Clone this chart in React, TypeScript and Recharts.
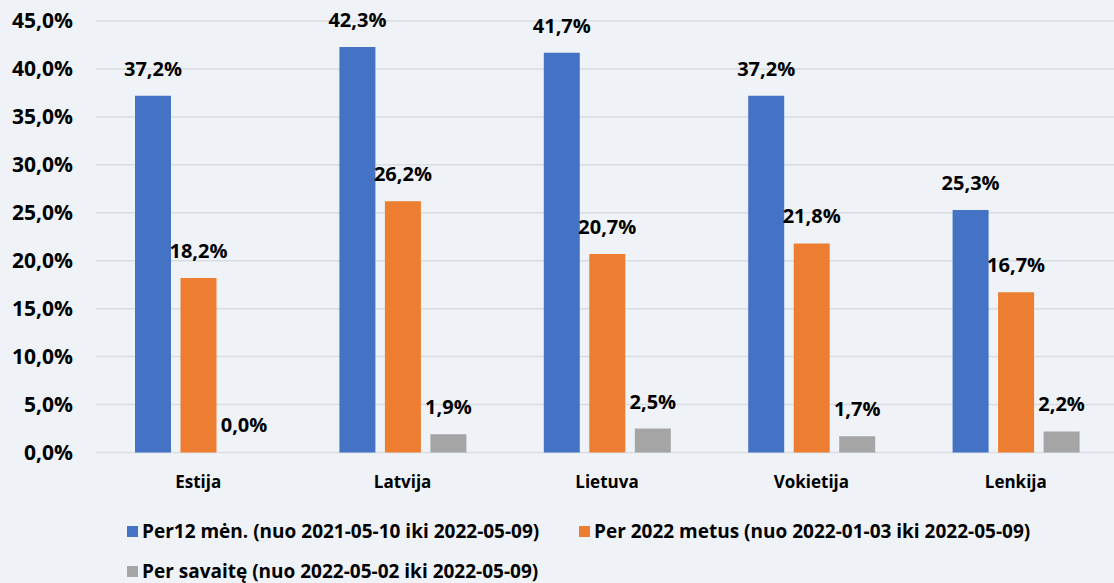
import React from 'react';
import { BarChart, Bar, XAxis, YAxis, CartesianGrid, Legend, LabelList } from 'recharts';

const categories = ['Estija', 'Latvija', 'Lietuva', 'Vokietija', 'Lenkija'];
const per12men = [37.2, 42.3, 41.7, 37.2, 25.3];
const per2022 = [18.2, 26.2, 20.7, 21.8, 16.7];
const perSavaite = [0.0, 1.9, 2.5, 1.7, 2.2];
const yTicks = [0, 5, 10, 15, 20, 25, 30, 35, 40, 45];

const seriesNames = [
  'Per12 mėn. (nuo 2021-05-10 iki 2022-05-09)',
  'Per 2022 metus (nuo 2022-01-03 iki 2022-05-09)',
  'Per savaitę (nuo 2022-05-02 iki 2022-05-09)',
];
const seriesKeys = ['a', 'b', 'c'];
const seriesColors = ['#4472C4', '#ED7D31', '#A5A5A5'];

const data = categories.map((name, i) => ({
  name,
  a: per12men[i],
  b: per2022[i],
  c: perSavaite[i],
}));

const FONT = '"Open Sans", "Noto Sans", sans-serif';
const fmt = (v: number) => Number(v).toFixed(1).replace('.', ',') + '%';

const LegendContent = () => (
  <div
    style={{
      display: 'flex',
      flexWrap: 'wrap',
      width: 960,
      paddingLeft: 127,
      paddingTop: 16,
      rowGap: 16,
      fontFamily: FONT,
      fontWeight: 700,
      fontSize: 19,
      lineHeight: '24px',
      color: '#000',
      boxSizing: 'content-box',
    }}
  >
    {seriesNames.map((n, i) => (
      <div key={n} style={{ display: 'flex', alignItems: 'center', width: 452, height: 24 }}>
        <span style={{ width: 11, height: 11, background: seriesColors[i], marginRight: 4, flex: 'none' }} />
        <span style={{ whiteSpace: 'nowrap' }}>{n}</span>
      </div>
    ))}
  </div>
);

export default function App() {
  return (
    <div
      style={{
        position: 'absolute',
        left: 0,
        top: 0,
        width: 1114,
        height: 583,
        overflow: 'hidden',
        background: '#EFF3F7',
      }}
    >
      <BarChart
        width={1122}
        height={583}
        data={data}
        margin={{ top: 21, right: 4, left: 0, bottom: 0 }}
        barGap={9.5}
        barSize={36}
      >
        <CartesianGrid vertical={false} stroke="#D9DCE0" strokeWidth={1.5} />
        <XAxis
          dataKey="name"
          axisLine={false}
          tickLine={false}
          height={50.5}
          tickMargin={17}
          tick={{ fill: '#000', fontFamily: FONT, fontWeight: 700, fontSize: 17 }}
        />
        <YAxis
          domain={[0, 45]}
          ticks={yTicks}
          width={96}
          axisLine={false}
          tickLine={false}
          tickMargin={17}
          tickFormatter={fmt}
          tick={{ fill: '#000', fontFamily: FONT, fontWeight: 700, fontSize: 21 }}
        />
        <Legend verticalAlign="bottom" height={80} content={<LegendContent />} wrapperStyle={{ left: 0, width: 1114 }} />
        {seriesKeys.map((k, i) => (
          <Bar
            key={k}
            dataKey={k}
            name={seriesNames[i]}
            fill={seriesColors[i]}
            minPointSize={0.1}
            isAnimationActive={false}
          >
            <LabelList
              dataKey={k}
              position="top"
              offset={20}
              formatter={(v: number) => fmt(v)}
              style={{ fill: '#000', fontFamily: FONT, fontWeight: 700, fontSize: 20 }}
            />
          </Bar>
        ))}
      </BarChart>
    </div>
  );
}
